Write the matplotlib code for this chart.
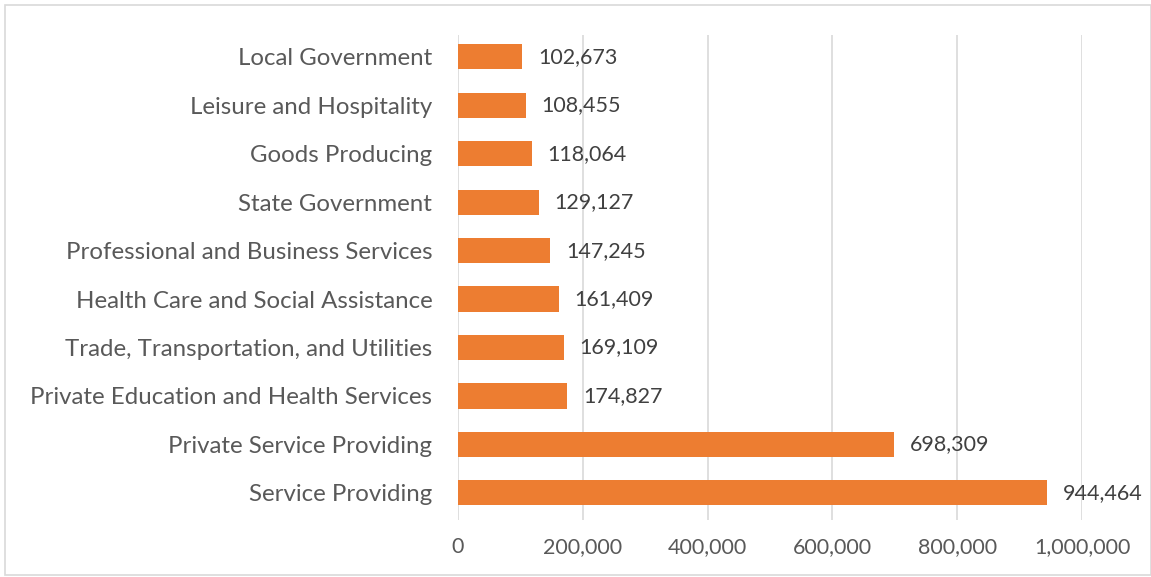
import matplotlib
matplotlib.use("Agg")
import matplotlib.pyplot as plt
from matplotlib.patches import Rectangle
from matplotlib.ticker import FuncFormatter

categories = ["Service Providing", "Private Service Providing",
              "Private Education and Health Services",
              "Trade, Transportation, and Utilities",
              "Health Care and Social Assistance",
              "Professional and Business Services",
              "State Government", "Goods Producing",
              "Leisure and Hospitality", "Local Government"]
values = [944464, 698309, 174827, 169109, 161409, 147245, 129127, 118064, 108455, 102673]
xticks = [0, 200000, 400000, 600000, 800000, 1000000]

plt.rcParams['font.family'] = ['Lato', 'DejaVu Sans']

fig = plt.figure(figsize=(11.51, 5.77), dpi=100)
ax = fig.add_axes([458/1151, 1-520/577, (1082-458)/1151, (520-35)/577])

y = list(range(len(categories)))
ax.barh(y, values, height=0.52, color="#ED7D31", zorder=3)
ax.set_xlim(0, 1000000)
ax.set_ylim(-0.56, len(categories) - 0.55)
ax.set_yticks(y)
ax.set_yticklabels(categories, fontsize=17.3, color="#595959")
ax.set_xticks(xticks)
ax.xaxis.set_major_formatter(FuncFormatter(lambda v, p: f"{int(v):,}"))
ax.tick_params(axis='x', labelsize=15.5, colors="#595959", length=0, pad=12)
ax.tick_params(axis='y', length=0, pad=18.5)
ax.grid(axis='x', color="#D9D9D9", linewidth=1.2, zorder=0)
for s in ax.spines.values():
    s.set_visible(False)

for yi, v in zip(y, values):
    ax.annotate(f"{v:,}", (v, yi), xytext=(11.5, 0), textcoords="offset points",
                va="center", ha="left", fontsize=15.5, color="#404040")

fig.patches.append(Rectangle((5/1151, 2/577), 1 - 5/1151, 1 - 7/577,
                             transform=fig.transFigure, fill=False,
                             edgecolor="#D9D9D9", linewidth=1.2))
fig.savefig("out.png", dpi=100)
